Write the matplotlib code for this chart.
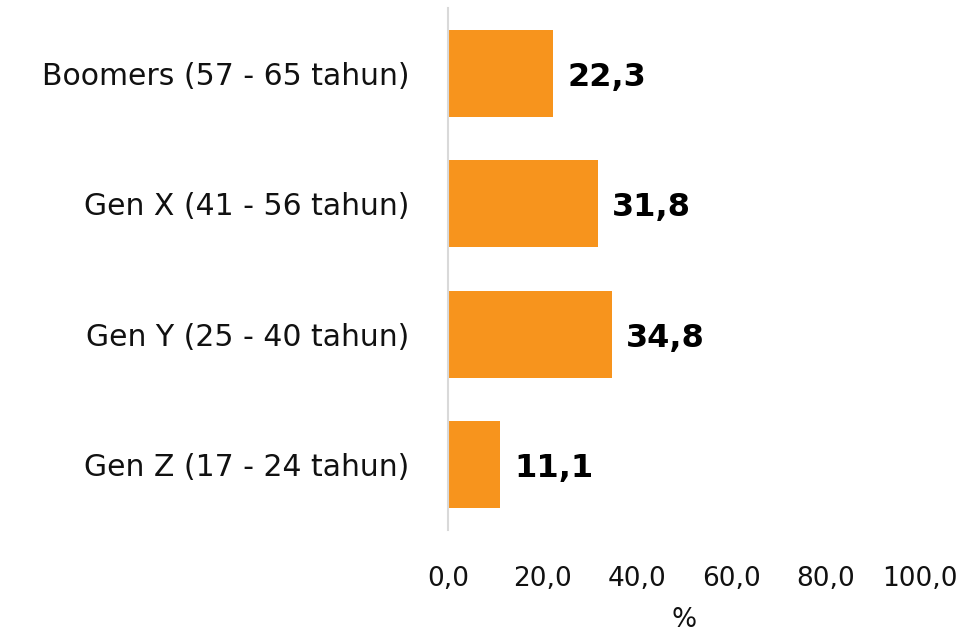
import matplotlib
matplotlib.use("Agg")
import matplotlib.pyplot as plt

categories = ["Boomers (57 - 65 tahun)", "Gen X (41 - 56 tahun)", "Gen Y (25 - 40 tahun)", "Gen Z (17 - 24 tahun)"]
values = [22.3, 31.8, 34.8, 11.1]
xticks = [0, 20, 40, 60, 80, 100]
xtick_labels = ["0,0", "20,0", "40,0", "60,0", "80,0", "100,0"]
value_labels = ["22,3", "31,8", "34,8", "11,1"]

plt.rcParams['font.family'] = ['DejaVu Sans']

fig = plt.figure(figsize=(9.79, 6.32), dpi=100)
ax = fig.add_axes([448/979, 1-530/632, (920-448)/979, (530-8)/632])

ypos = list(range(len(categories)))
ax.barh(ypos, values, height=0.664, color="#F7941D")
ax.set_ylim(len(categories)-0.5, -0.5)
ax.set_xlim(0, 100)
ax.set_yticks(ypos)
ax.set_yticklabels(categories, fontsize=21.5, color="#111111")
ax.set_xticks(xticks)
ax.set_xticklabels(xtick_labels, fontsize=19, color="#111111")
ax.tick_params(axis='y', length=0, pad=28)
ax.tick_params(axis='x', length=0, pad=26)
for s in ["top", "right", "bottom"]:
    ax.spines[s].set_visible(False)
ax.spines["left"].set_color("#D9D9D9")
ax.spines["left"].set_linewidth(1.5)

for y, v, lab in zip(ypos, values, value_labels):
    ax.annotate(lab, (v, y), xytext=(10, -3), textcoords="offset points",
                ha="left", va="center", fontsize=23, fontweight="bold",
                color="#000000")

ax.set_xlabel("%", fontsize=19, color="#111111", labelpad=11)

fig.savefig("out.png", dpi=100)
